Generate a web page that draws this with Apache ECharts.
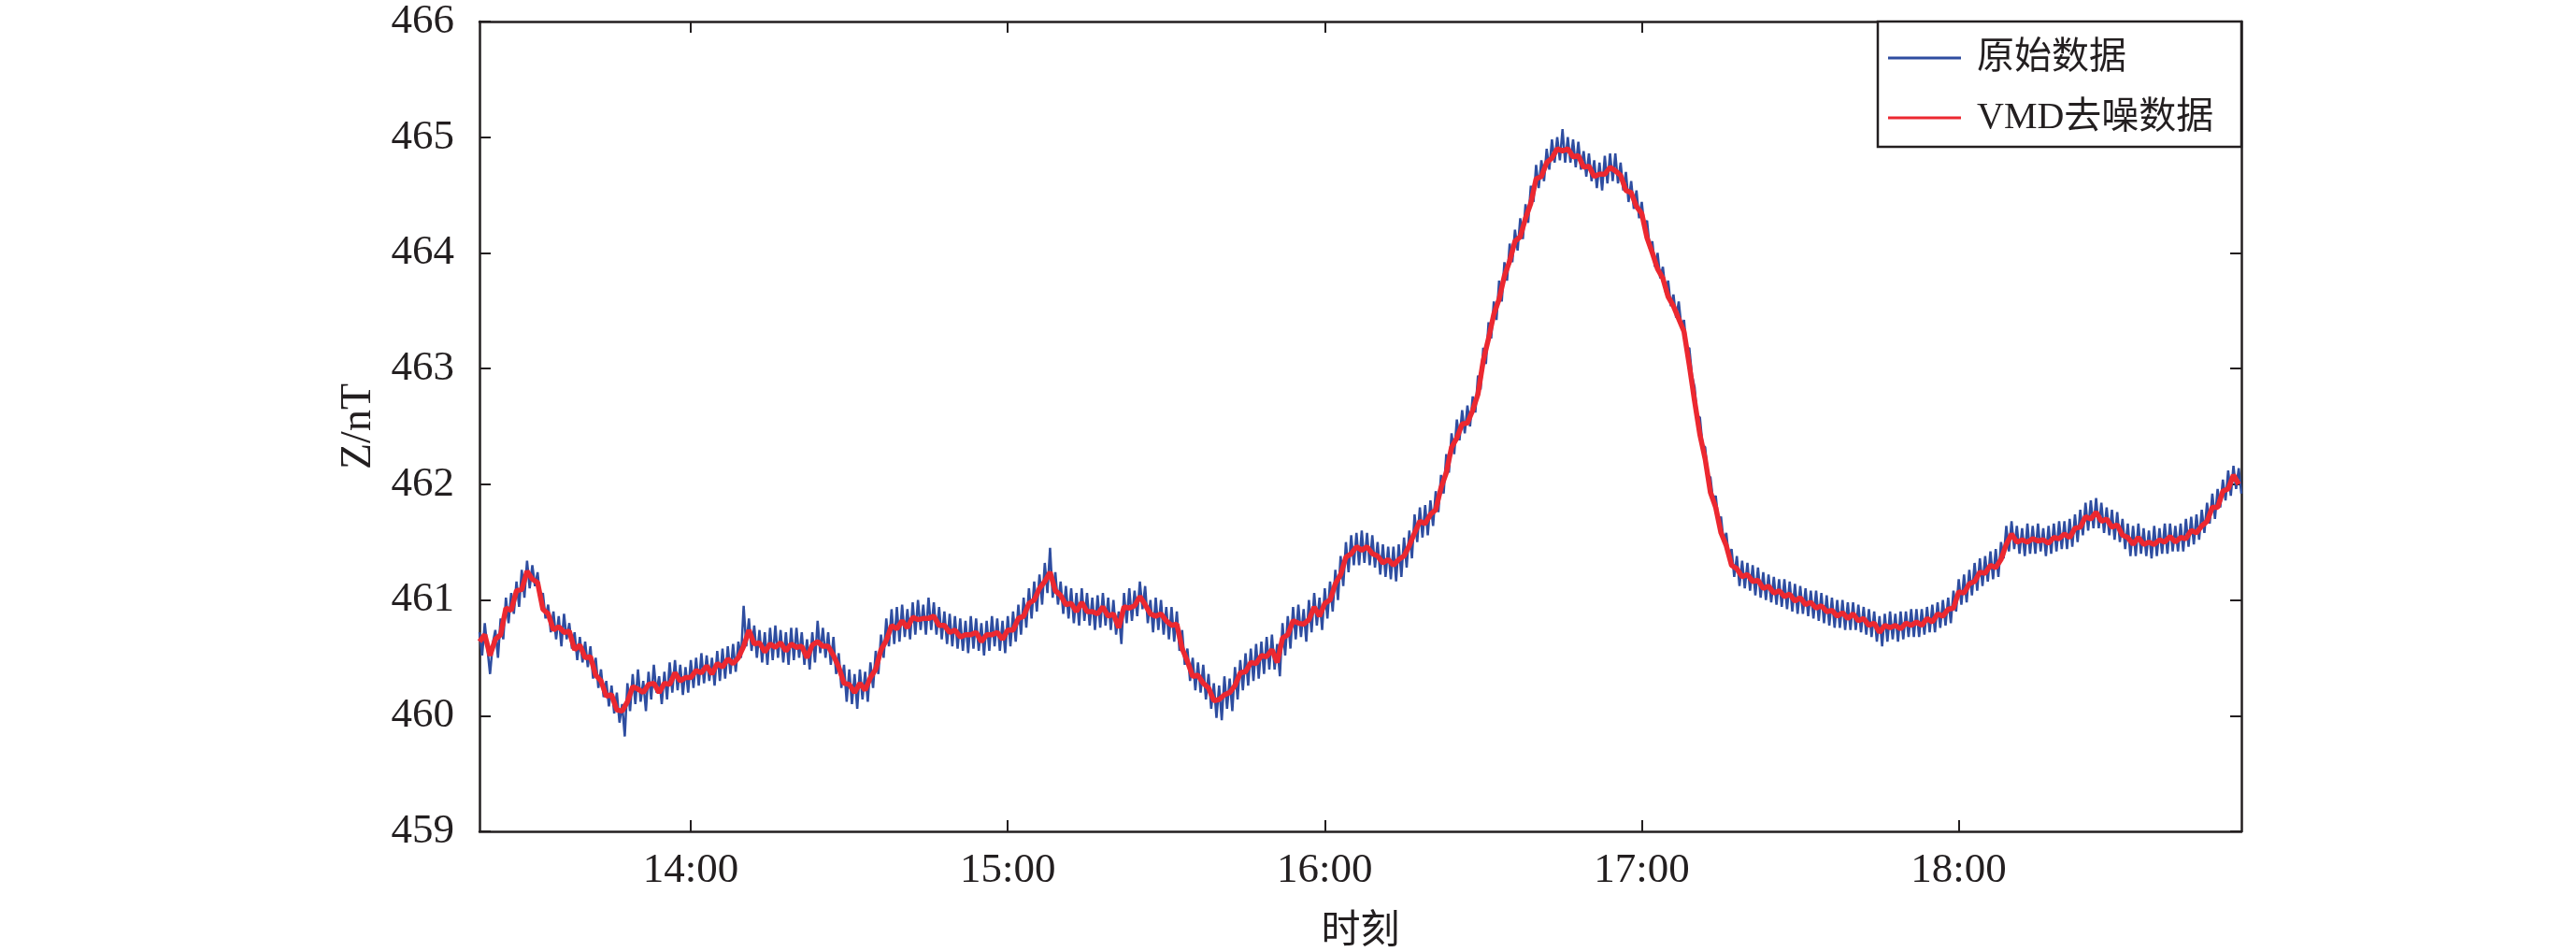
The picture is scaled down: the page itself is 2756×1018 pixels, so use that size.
<!DOCTYPE html>
<html>
<head>
<meta charset="utf-8">
<script src="https://cdn.jsdelivr.net/npm/echarts@6/dist/echarts.min.js"></script>
<style>
html,body{margin:0;padding:0;background:#fff;}
#chart{width:2756px;height:1018px;}
</style>
</head>
<body>
<div id="chart"></div>
<script>
// Time axis in minutes of the day; data start at 13:20 (minute 800)
const startMinute = 800;
const rawStep = 0.5;       // raw data: one value every 30 s
const denoisedStep = 1;    // denoised data: one value every minute
const seriesNames = ['原始数据', 'VMD去噪数据'];
const tickMinutes = [840, 900, 960, 1020, 1080];
const tickLabels = ['14:00', '15:00', '16:00', '17:00', '18:00'];

// Raw data (blue), 30 s steps
const rawValues = [
460.72,460.52,460.80,460.58,460.36,460.62,460.74,460.50,460.84,460.66,461.02,460.80,461.06,460.88,461.16,460.94,461.26,461.02,461.34,461.10,
461.30,461.12,461.24,461.00,461.06,460.84,460.96,460.72,460.90,460.66,460.86,460.60,460.88,460.66,460.80,460.58,460.72,460.48,460.68,460.46,
460.64,460.42,460.60,460.32,460.50,460.24,460.40,460.16,460.30,460.08,460.26,460.02,460.20,459.94,460.10,459.82,460.28,460.04,460.36,460.10,
460.40,460.12,460.30,460.04,460.38,460.14,460.44,460.20,460.34,460.10,460.38,460.14,460.46,460.20,460.48,460.22,460.44,460.18,460.42,460.20,
460.48,460.24,460.50,460.26,460.54,460.28,460.52,460.30,460.50,460.26,460.56,460.30,460.58,460.32,460.60,460.36,460.62,460.38,460.64,460.50,
460.95,460.60,460.84,460.56,460.78,460.50,460.74,460.46,460.72,460.44,460.76,460.48,460.78,460.50,460.74,460.46,460.72,460.44,460.76,460.48,
460.76,460.50,460.72,460.44,460.66,460.40,460.72,460.46,460.82,460.54,460.76,460.50,460.72,460.44,460.68,460.36,460.54,460.24,460.44,460.12,
460.40,460.10,460.36,460.06,460.40,460.14,460.38,460.12,460.46,460.24,460.56,460.36,460.70,460.50,460.84,460.60,460.92,460.62,460.94,460.64,
460.96,460.68,460.92,460.66,460.98,460.70,461.00,460.74,460.96,460.70,461.02,460.74,460.98,460.70,460.94,460.66,460.90,460.62,460.88,460.60,
460.86,460.58,460.84,460.56,460.82,460.54,460.86,460.58,460.84,460.56,460.80,460.52,460.82,460.56,460.86,460.60,460.84,460.56,460.82,460.54,
460.86,460.60,460.90,460.64,460.96,460.70,461.02,460.76,461.10,460.84,461.16,460.90,461.22,460.96,461.32,461.06,461.45,461.02,461.24,460.96,
461.16,460.88,461.12,460.84,461.10,460.80,461.06,460.78,461.10,460.82,461.06,460.78,461.02,460.74,461.04,460.76,461.06,460.78,461.02,460.74,
461.00,460.70,460.90,460.62,461.06,460.80,461.10,460.82,461.08,460.86,461.16,460.92,461.12,460.80,461.00,460.72,461.02,460.74,461.00,460.70,
460.94,460.66,460.94,460.64,460.90,460.56,460.74,460.44,460.58,460.30,460.50,460.22,460.46,460.20,460.44,460.14,460.36,460.06,460.28,459.98,
460.26,459.96,460.34,460.06,460.32,460.04,460.42,460.14,460.48,460.22,460.54,460.26,460.58,460.30,460.62,460.32,460.64,460.36,460.68,460.40,
460.70,460.40,460.62,460.34,460.80,460.52,460.86,460.58,460.94,460.66,460.96,460.68,460.92,460.64,461.00,460.72,461.06,460.78,461.02,460.74,
461.10,460.84,461.16,460.90,461.26,461.00,461.38,461.12,461.50,461.24,461.56,461.30,461.58,461.30,461.60,461.32,461.58,461.30,461.56,461.28,
461.50,461.22,461.48,461.20,461.46,461.18,461.46,461.16,461.48,461.20,461.54,461.28,461.60,461.36,461.74,461.50,461.80,461.54,461.82,461.56,
461.86,461.64,461.94,461.76,462.08,461.92,462.26,462.10,462.44,462.26,462.56,462.38,462.64,462.44,462.68,462.50,462.76,462.62,462.94,462.82,
463.18,463.04,463.40,463.26,463.58,463.42,463.76,463.58,463.92,463.76,464.08,463.92,464.20,464.02,464.30,464.12,464.42,464.26,464.58,464.44,
464.76,464.56,464.80,464.62,464.90,464.72,464.98,464.78,465.00,464.80,465.07,464.78,465.00,464.78,464.98,464.74,464.96,464.72,464.88,464.66,
464.86,464.62,464.80,464.56,464.78,464.54,464.84,464.60,464.86,464.62,464.86,464.60,464.78,464.54,464.70,464.44,464.62,464.38,464.54,464.30,
464.44,464.22,464.28,464.04,464.10,463.88,464.00,463.78,463.88,463.66,463.76,463.54,463.64,463.44,463.58,463.36,463.42,463.16,463.18,462.94,
462.84,462.58,462.58,462.34,462.32,462.08,462.06,461.86,461.90,461.68,461.72,461.50,461.58,461.36,461.44,461.20,461.38,461.12,461.34,461.10,
461.32,461.08,461.30,461.04,461.28,461.02,461.24,461.00,461.22,460.98,461.20,460.96,461.18,460.94,461.18,460.92,461.16,460.90,461.14,460.88,
461.12,460.88,461.10,460.86,461.08,460.84,461.08,460.82,461.06,460.80,461.04,460.78,461.02,460.76,461.00,460.76,461.00,460.74,460.98,460.74,
460.98,460.74,460.96,460.72,460.94,460.70,460.92,460.68,460.90,460.64,460.86,460.60,460.88,460.64,460.90,460.66,460.88,460.64,460.90,460.66,
460.90,460.68,460.92,460.68,460.92,460.68,460.92,460.70,460.94,460.72,460.96,460.72,460.98,460.76,461.00,460.78,461.02,460.80,461.08,460.90,
461.18,460.96,461.22,460.98,461.26,461.04,461.32,461.08,461.36,461.12,461.38,461.16,461.42,461.18,461.44,461.20,461.50,461.36,461.64,461.42,
461.68,461.44,461.64,461.40,461.62,461.38,461.66,461.40,461.64,461.40,461.66,461.42,461.62,461.38,461.64,461.40,461.66,461.42,461.68,461.44,
461.68,461.44,461.70,461.46,461.74,461.50,461.78,461.56,461.84,461.60,461.86,461.62,461.88,461.62,461.84,461.58,461.80,461.56,461.78,461.52,
461.76,461.50,461.70,461.44,461.66,461.38,461.64,461.38,461.66,461.40,461.62,461.38,461.60,461.36,461.64,461.38,461.62,461.40,461.66,461.40,
461.66,461.42,461.64,461.42,461.66,461.42,461.70,461.46,461.72,461.48,461.74,461.52,461.78,461.58,461.84,461.66,461.92,461.70,461.96,461.80,
462.04,461.86,462.12,461.90,462.16,461.96,462.14,461.92
];

// VMD denoised data (red), 1 min steps
const denoisedValues = [
460.64,460.70,460.52,460.66,460.70,460.93,460.91,461.08,461.09,461.25,
461.18,461.15,460.92,460.88,460.74,460.77,460.72,460.73,460.57,460.61,
460.50,460.51,460.35,460.30,460.17,460.18,460.05,460.04,460.12,460.25,
460.23,460.20,460.27,460.28,460.20,460.28,460.27,460.37,460.30,460.33,
460.33,460.39,460.37,460.43,460.36,460.45,460.42,460.49,460.45,460.50,
460.60,460.74,460.62,460.63,460.55,460.62,460.59,460.63,460.56,460.62,
460.59,460.60,460.50,460.61,460.64,460.60,460.60,460.52,460.42,460.28,
460.27,460.20,460.28,460.22,460.33,460.40,460.57,460.65,460.78,460.75,
460.82,460.76,460.85,460.83,460.84,460.84,460.86,460.78,460.78,460.72,
460.74,460.68,460.70,460.70,460.72,460.64,460.70,460.70,460.72,460.66,
460.74,460.74,460.84,460.86,460.97,461.00,461.10,461.16,461.24,461.08,
461.04,460.96,460.97,460.90,460.98,460.90,460.90,460.88,460.94,460.86,
460.88,460.76,460.94,460.93,460.95,461.03,460.96,460.88,460.86,460.88,
460.82,460.78,460.79,460.58,460.47,460.34,460.35,460.28,460.24,460.13,
460.14,460.18,460.20,460.26,460.37,460.38,460.46,460.45,460.52,460.51,
460.57,460.46,460.67,460.70,460.82,460.80,460.79,460.83,460.94,460.86,
460.97,461.00,461.14,461.22,461.37,461.40,461.46,461.43,461.46,461.40,
461.38,461.32,461.35,461.30,461.35,461.38,461.47,461.58,461.68,461.66,
461.74,461.78,461.97,462.10,462.32,462.40,462.52,462.53,462.64,462.78,
463.07,463.26,463.47,463.60,463.80,463.93,464.10,464.14,464.30,464.43,
464.64,464.66,464.78,464.82,464.90,464.88,464.90,464.83,464.84,464.74,
464.75,464.66,464.68,464.68,464.74,464.71,464.67,464.54,464.52,464.40,
464.34,464.13,464.00,463.86,463.78,463.62,463.54,463.43,463.32,463.03,
462.72,462.43,462.22,461.93,461.80,461.58,461.47,461.30,461.27,461.20,
461.22,461.16,461.17,461.10,461.12,461.06,461.08,461.03,461.05,460.99,
461.02,460.96,460.98,460.93,460.95,460.90,460.91,460.86,460.89,460.84,
460.88,460.82,460.84,460.78,460.80,460.72,460.78,460.76,460.78,460.75,
460.80,460.78,460.81,460.78,460.84,460.81,460.88,460.86,460.92,460.93,
461.07,461.06,461.14,461.16,461.24,461.23,461.30,461.28,461.35,461.48,
461.57,461.50,461.52,461.50,461.53,461.51,461.52,461.49,461.54,461.53,
461.57,461.54,461.62,461.63,461.72,461.70,461.76,461.68,461.70,461.63,
461.65,461.56,461.54,461.48,461.54,461.48,461.50,461.48,461.52,461.50,
461.55,461.50,461.54,461.53,461.60,461.58,461.64,461.68,461.80,461.80,
461.94,461.96,462.08,462.00
];

const INK = '#231f20';
const FONT = "'Liberation Serif', 'Noto Sans CJK SC', serif";
const BLUE = '#2e4da0';
const RED = '#ec2830';

const rawData = rawValues.map((v, i) => [startMinute + i * rawStep, v]);
const denData = denoisedValues.map((v, i) => [startMinute + i * denoisedStep, v]);
const labelFor = v => { const k = tickMinutes.indexOf(Math.round(v)); return k >= 0 ? tickLabels[k] : ''; };

const chart = echarts.init(document.getElementById('chart'), null, {renderer: 'canvas'});
chart.setOption({
  animation: false,
  backgroundColor: '#fff',
  grid: {left: 513, right: 358, top: 23, bottom: 129, containLabel: false, outerBoundsMode: 'none'},
  legend: {
    orient: 'vertical',
    right: 358, top: 23,
    backgroundColor: '#fff',
    borderColor: INK, borderWidth: 2.5,
    padding: [15, 13, 7, 11],
    icon: 'rect',
    itemWidth: 78, itemHeight: 3, itemGap: 16,
    textStyle: {fontFamily: FONT, fontSize: 40, color: INK, lineHeight: 48, width: 270, padding: [0, 0, 0, 12]},
    data: seriesNames
  },
  xAxis: [{
    type: 'value', min: 800, max: 1133.5, position: 'bottom',
    axisLine: {show: true, onZero: false, lineStyle: {color: INK, width: 2.5}},
    axisTick: {show: true, inside: true, length: 12, lineStyle: {color: INK, width: 2}, customValues: tickMinutes},
    axisLabel: {show: true, customValues: tickMinutes, formatter: labelFor, fontFamily: FONT, fontSize: 45, color: INK, margin: 20},
    splitLine: {show: false},
    name: '时刻', nameLocation: 'middle', nameGap: 87,
    nameTextStyle: {fontFamily: FONT, fontSize: 42, color: INK}
  }, {
    type: 'value', min: 800, max: 1133.5, position: 'top',
    axisLine: {show: true, onZero: false, lineStyle: {color: INK, width: 2.5}},
    axisTick: {show: true, inside: true, length: 12, lineStyle: {color: INK, width: 2}, customValues: tickMinutes},
    axisLabel: {show: false},
    splitLine: {show: false}
  }],
  yAxis: [{
    type: 'value', min: 459, max: 466, interval: 1, position: 'left',
    axisLine: {show: true, onZero: false, lineStyle: {color: INK, width: 2.5}},
    axisTick: {show: true, inside: true, length: 12, lineStyle: {color: INK, width: 2}},
    axisLabel: {fontFamily: FONT, fontSize: 45, color: INK, margin: 27},
    splitLine: {show: false},
    name: 'Z/nT', nameLocation: 'middle', nameGap: 106,
    nameTextStyle: {fontFamily: FONT, fontSize: 46, color: INK}
  }, {
    type: 'value', min: 459, max: 466, interval: 1, position: 'right',
    axisLine: {show: true, onZero: false, lineStyle: {color: INK, width: 2.5}},
    axisTick: {show: true, inside: true, length: 12, lineStyle: {color: INK, width: 2}},
    axisLabel: {show: false},
    splitLine: {show: false}
  }],
  series: [{
    name: seriesNames[0], type: 'line', data: rawData,
    xAxisIndex: 0, yAxisIndex: 0,
    showSymbol: false, symbol: 'none',
    lineStyle: {color: BLUE, width: 2.5}, itemStyle: {color: BLUE}
  }, {
    name: seriesNames[1], type: 'line', data: denData,
    xAxisIndex: 0, yAxisIndex: 0,
    showSymbol: false, symbol: 'none',
    lineStyle: {color: RED, width: 5.5}, itemStyle: {color: RED}
  }]
});
</script>
</body>
</html>
